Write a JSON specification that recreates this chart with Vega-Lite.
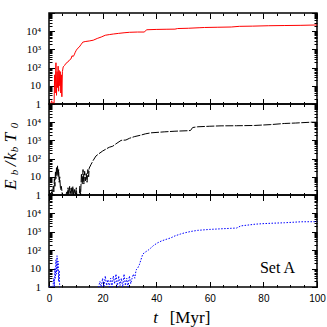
{
  "$schema": "https://vega.github.io/schema/vega-lite/v6.json",
  "background": "white",
  "padding": {"left": 0, "top": 6, "right": 11, "bottom": 0},
  "spacing": 0,
  "bounds": "flush",
  "config": {
    "view": {"stroke": "black", "strokeWidth": 1.5},
    "axis": {"domain": false, "grid": false, "tickColor": "black", "labelColor": "black", "title": null, "labelOverlap": false, "labelFlush": false, "labelBound": false}
  },
  "datasets": {
    "red": [
      {"t":0,"v":1},{"t":0.6,"v":1},{"t":1.0,"v":1.5},{"t":1.3,"v":1},{"t":1.6,"v":1.2},{"t":1.9,"v":1},{"t":2.1,"v":40},{"t":2.3,"v":4},{"t":2.5,"v":70},{"t":2.6,"v":185},{"t":2.8,"v":3},{"t":3.0,"v":60},{"t":3.2,"v":8},{"t":3.4,"v":120},{"t":3.6,"v":5},{"t":3.8,"v":70},{"t":4.0,"v":10},{"t":4.2,"v":60},{"t":4.4,"v":4},{"t":4.6,"v":40},{"t":4.8,"v":2.5},{"t":5.0,"v":60},{"t":5.3,"v":110},{"t":5.8,"v":130},{"t":6.3,"v":170},{"t":7,"v":200},{"t":7.6,"v":260},{"t":8.2,"v":300},{"t":8.6,"v":450},{"t":9.0,"v":400},{"t":9.4,"v":500},{"t":9.8,"v":700},{"t":10.2,"v":900},{"t":10.7,"v":1150},{"t":11.2,"v":1300},{"t":11.9,"v":1800},{"t":12.6,"v":2500},{"t":13.5,"v":2700},{"t":15,"v":2900},{"t":16.5,"v":3200},{"t":18,"v":4000},{"t":19.5,"v":4800},{"t":21,"v":6000},{"t":22.5,"v":6500},{"t":24,"v":7000},{"t":26,"v":7600},{"t":28,"v":8200},{"t":30,"v":8700},{"t":33,"v":9000},{"t":35.5,"v":9000},{"t":36.5,"v":12000},{"t":40,"v":12500},{"t":44,"v":12800},{"t":47,"v":13000},{"t":48,"v":14000},{"t":52,"v":14500},{"t":56,"v":15500},{"t":58,"v":16000},{"t":63,"v":16500},{"t":68,"v":17000},{"t":71,"v":18500},{"t":76,"v":19000},{"t":82,"v":20000},{"t":88,"v":20500},{"t":94,"v":21000},{"t":100,"v":22000}
    ],
    "black": [
      {"t":0,"v":1},{"t":0.5,"v":1.3},{"t":0.8,"v":1},{"t":1.1,"v":2},{"t":1.3,"v":1},{"t":1.6,"v":3},{"t":1.8,"v":1.5},{"t":2.0,"v":8},{"t":2.2,"v":3},{"t":2.4,"v":20},{"t":2.6,"v":8},{"t":2.8,"v":35},{"t":3.0,"v":12},{"t":3.2,"v":40},{"t":3.4,"v":10},{"t":3.6,"v":25},{"t":3.8,"v":5},{"t":4.0,"v":10},{"t":4.3,"v":2},{"t":4.6,"v":3},{"t":5.0,"v":1},{"t":5.5,"v":0.5},{"t":6.2,"v":0.5},{"t":6.5,"v":1.5},{"t":6.8,"v":1},{"t":7.1,"v":2.5},{"t":7.4,"v":1},{"t":7.7,"v":3},{"t":8.0,"v":1.2},{"t":8.3,"v":2.5},{"t":8.6,"v":1},{"t":8.9,"v":3},{"t":9.2,"v":1},{"t":9.5,"v":2},{"t":9.8,"v":1},{"t":10.2,"v":2.5},{"t":10.5,"v":0.5},{"t":11.2,"v":0.5},{"t":11.5,"v":3},{"t":11.8,"v":1},{"t":12.1,"v":15},{"t":12.4,"v":4},{"t":12.7,"v":25},{"t":13.0,"v":4},{"t":13.3,"v":20},{"t":13.6,"v":6},{"t":13.9,"v":15},{"t":14.2,"v":5},{"t":14.5,"v":25},{"t":14.8,"v":10},{"t":15.0,"v":30},{"t":15.7,"v":48},{"t":16.5,"v":80},{"t":17.5,"v":138},{"t":18.5,"v":180},{"t":20,"v":260},{"t":21.5,"v":350},{"t":22.5,"v":420},{"t":23.8,"v":480},{"t":25,"v":650},{"t":26.9,"v":1000},{"t":28.7,"v":1050},{"t":30,"v":1300},{"t":31.8,"v":1600},{"t":34,"v":1900},{"t":36,"v":2300},{"t":38,"v":2600},{"t":43,"v":2950},{"t":47,"v":3200},{"t":51.7,"v":3400},{"t":52.8,"v":3500},{"t":53.6,"v":5100},{"t":55.5,"v":5600},{"t":60,"v":6000},{"t":64.2,"v":6300},{"t":70,"v":6400},{"t":76.6,"v":6600},{"t":82.8,"v":7400},{"t":87.8,"v":8500},{"t":92,"v":9000},{"t":97.8,"v":10000},{"t":100,"v":10000}
    ],
    "blue": [
      {"t":0,"v":1},{"t":0.5,"v":1},{"t":1,"v":1},{"t":1.5,"v":1.2},{"t":1.8,"v":3},{"t":2,"v":1},{"t":2.2,"v":10},{"t":2.4,"v":3},{"t":2.6,"v":30},{"t":2.8,"v":5},{"t":3.0,"v":50},{"t":3.2,"v":8},{"t":3.4,"v":25},{"t":3.6,"v":2},{"t":3.8,"v":8},{"t":4.0,"v":1},{"t":4.4,"v":0.5},{"t":18,"v":0.5},{"t":18.5,"v":1},{"t":19,"v":2},{"t":19.5,"v":1},{"t":20,"v":3},{"t":20.5,"v":1},{"t":21,"v":4},{"t":21.5,"v":1.2},{"t":22,"v":2.5},{"t":22.5,"v":1},{"t":23,"v":3},{"t":23.5,"v":1},{"t":24,"v":4},{"t":24.5,"v":1.5},{"t":25,"v":5},{"t":25.5,"v":1},{"t":26,"v":4},{"t":26.5,"v":1.2},{"t":27,"v":3},{"t":27.5,"v":1},{"t":28,"v":5},{"t":28.5,"v":1.2},{"t":29,"v":3},{"t":29.5,"v":1},{"t":30,"v":4},{"t":30.5,"v":1.5},{"t":31,"v":3},{"t":31.5,"v":5},{"t":32,"v":3},{"t":32.5,"v":8.5},{"t":33,"v":10},{"t":33.7,"v":16},{"t":34.3,"v":30},{"t":35,"v":62},{"t":36,"v":80},{"t":37,"v":100},{"t":38,"v":132},{"t":39,"v":180},{"t":40.5,"v":250},{"t":42,"v":320},{"t":44,"v":400},{"t":45.5,"v":470},{"t":47,"v":600},{"t":49,"v":750},{"t":50.5,"v":870},{"t":53,"v":1050},{"t":55.5,"v":1200},{"t":60,"v":1350},{"t":64,"v":1450},{"t":68,"v":1550},{"t":70,"v":1600},{"t":71.6,"v":2100},{"t":74,"v":2300},{"t":77,"v":2600},{"t":80.3,"v":2800},{"t":84,"v":2950},{"t":87.8,"v":3100},{"t":91,"v":3300},{"t":94,"v":3500},{"t":100,"v":3550}
    ],
    "one": [{"k": 1}]
  },
  "vconcat": [
    {
      "width": 268, "height": 91,
      "layer": [
        {"data": {"name": "red"}, "mark": {"type": "line", "color": "#ff0000", "strokeWidth": 1, "clip": true},
         "encoding": {
           "x": {"field": "t", "type": "quantitative", "scale": {"domain": [0, 100], "nice": false}, "axis": {"orient": "bottom", "values": [0,20,40,60,80,100], "tickSize": -5.5, "labels": false}},
           "y": {"field": "v", "type": "quantitative", "scale": {"type": "log", "domain": [1, 100000], "nice": false}, "axis": {"orient": "left", "values": [1,10,100,1000,10000,100000], "tickSize": -5.5, "labelPadding": 14, "labelFont": "Liberation Serif", "labelFontSize": 11, "labelExpr": "datum.value == 1 ? '1' : datum.value == 10 ? '10' : datum.value == 100 ? '10²' : datum.value == 1000 ? '10³' : datum.value == 10000 ? '10⁴' : ''"}}}},
        {"data": {"name": "red"}, "mark": {"type": "line", "opacity": 0},
         "encoding": {
           "x": {"field": "t", "type": "quantitative", "axis": {"orient": "bottom", "values": [5,10,15,25,30,35,45,50,55,65,70,75,85,90,95], "tickSize": -2.5, "labels": false}},
           "y": {"field": "v", "type": "quantitative", "axis": {"orient": "left", "values": [2,3,4,5,6,7,8,9,20,30,40,50,60,70,80,90,200,300,400,500,600,700,800,900,2000,3000,4000,5000,6000,7000,8000,9000,20000,30000,40000,50000,60000,70000,80000,90000], "tickSize": -3, "labels": false}}}},
        {"data": {"name": "red"}, "mark": {"type": "line", "opacity": 0},
         "encoding": {
           "x": {"field": "t", "type": "quantitative", "axis": {"orient": "top", "values": [0,20,40,60,80,100], "tickSize": -5.5, "labels": false}},
           "y": {"field": "v", "type": "quantitative", "axis": {"orient": "right", "values": [1,10,100,1000,10000,100000], "tickSize": -5.5, "labels": false}}}},
        {"data": {"name": "red"}, "mark": {"type": "line", "opacity": 0},
         "encoding": {
           "x": {"field": "t", "type": "quantitative", "axis": {"orient": "top", "values": [5,10,15,25,30,35,45,50,55,65,70,75,85,90,95], "tickSize": -2.5, "labels": false}},
           "y": {"field": "v", "type": "quantitative", "axis": {"orient": "right", "values": [2,3,4,5,6,7,8,9,20,30,40,50,60,70,80,90,200,300,400,500,600,700,800,900,2000,3000,4000,5000,6000,7000,8000,9000,20000,30000,40000,50000,60000,70000,80000,90000], "tickSize": -3, "labels": false}}}}
      ],
      "resolve": {"axis": {"x": "independent", "y": "independent"}}
    },
    {
      "width": 268, "height": 91,
      "layer": [
        {"data": {"name": "black"}, "mark": {"type": "line", "color": "black", "strokeWidth": 1, "strokeDash": [8, 1.5], "clip": true},
         "encoding": {
           "x": {"field": "t", "type": "quantitative", "scale": {"domain": [0, 100], "nice": false}, "axis": {"orient": "bottom", "values": [0,20,40,60,80,100], "tickSize": -5.5, "labels": false}},
           "y": {"field": "v", "type": "quantitative", "scale": {"type": "log", "domain": [1, 100000], "nice": false}, "axis": {"orient": "left", "values": [1,10,100,1000,10000,100000], "tickSize": -5.5, "labelPadding": 14, "labelFont": "Liberation Serif", "labelFontSize": 11, "labelExpr": "datum.value == 1 ? '1' : datum.value == 10 ? '10' : datum.value == 100 ? '10²' : datum.value == 1000 ? '10³' : datum.value == 10000 ? '10⁴' : ''"}}}},
        {"data": {"name": "black"}, "mark": {"type": "line", "opacity": 0},
         "encoding": {
           "x": {"field": "t", "type": "quantitative", "axis": {"orient": "bottom", "values": [5,10,15,25,30,35,45,50,55,65,70,75,85,90,95], "tickSize": -2.5, "labels": false}},
           "y": {"field": "v", "type": "quantitative", "axis": {"orient": "left", "values": [2,3,4,5,6,7,8,9,20,30,40,50,60,70,80,90,200,300,400,500,600,700,800,900,2000,3000,4000,5000,6000,7000,8000,9000,20000,30000,40000,50000,60000,70000,80000,90000], "tickSize": -3, "labels": false}}}},
        {"data": {"name": "black"}, "mark": {"type": "line", "opacity": 0},
         "encoding": {
           "x": {"field": "t", "type": "quantitative", "axis": {"orient": "top", "values": [0,20,40,60,80,100], "tickSize": -5.5, "labels": false}},
           "y": {"field": "v", "type": "quantitative", "axis": {"orient": "right", "values": [1,10,100,1000,10000,100000], "tickSize": -5.5, "labels": false}}}},
        {"data": {"name": "black"}, "mark": {"type": "line", "opacity": 0},
         "encoding": {
           "x": {"field": "t", "type": "quantitative", "axis": {"orient": "top", "values": [5,10,15,25,30,35,45,50,55,65,70,75,85,90,95], "tickSize": -2.5, "labels": false}},
           "y": {"field": "v", "type": "quantitative", "axis": {"orient": "right", "values": [2,3,4,5,6,7,8,9,20,30,40,50,60,70,80,90,200,300,400,500,600,700,800,900,2000,3000,4000,5000,6000,7000,8000,9000,20000,30000,40000,50000,60000,70000,80000,90000], "tickSize": -3, "labels": false}}}},
        {"data": {"name": "one"}, "mark": {"type": "text", "text": "E", "angle": 270, "align": "center", "baseline": "middle", "font": "Liberation Serif", "fontStyle": "italic", "fontSize": 17, "color": "black"},
         "encoding": {"x": {"datum": -14.3, "type": "quantitative", "axis": null}, "y": {"datum": 3.78, "type": "quantitative", "axis": null}}},
        {"data": {"name": "one"}, "mark": {"type": "text", "text": "b", "angle": 270, "align": "center", "baseline": "middle", "font": "Liberation Serif", "fontStyle": "italic", "fontSize": 11, "dy": 4.5, "color": "black"},
         "encoding": {"x": {"datum": -14.3, "type": "quantitative", "axis": null}, "y": {"datum": 17.2, "type": "quantitative", "axis": null}}},
        {"data": {"name": "one"}, "mark": {"type": "text", "text": "/", "angle": 270, "align": "center", "baseline": "middle", "font": "Liberation Serif", "fontStyle": "italic", "fontSize": 17, "color": "black"},
         "encoding": {"x": {"datum": -14.3, "type": "quantitative", "axis": null}, "y": {"datum": 50.5, "type": "quantitative", "axis": null}}},
        {"data": {"name": "one"}, "mark": {"type": "text", "text": "k", "angle": 270, "align": "center", "baseline": "middle", "font": "Liberation Serif", "fontStyle": "italic", "fontSize": 17, "color": "black"},
         "encoding": {"x": {"datum": -14.3, "type": "quantitative", "axis": null}, "y": {"datum": 130, "type": "quantitative", "axis": null}}},
        {"data": {"name": "one"}, "mark": {"type": "text", "text": "b", "angle": 270, "align": "center", "baseline": "middle", "font": "Liberation Serif", "fontStyle": "italic", "fontSize": 11, "dy": 4.5, "color": "black"},
         "encoding": {"x": {"datum": -14.3, "type": "quantitative", "axis": null}, "y": {"datum": 316, "type": "quantitative", "axis": null}}},
        {"data": {"name": "one"}, "mark": {"type": "text", "text": "T", "angle": 270, "align": "center", "baseline": "middle", "font": "Liberation Serif", "fontStyle": "italic", "fontSize": 17, "color": "black"},
         "encoding": {"x": {"datum": -14.3, "type": "quantitative", "axis": null}, "y": {"datum": 1445, "type": "quantitative", "axis": null}}},
        {"data": {"name": "one"}, "mark": {"type": "text", "text": "0", "angle": 270, "align": "center", "baseline": "middle", "font": "Liberation Serif", "fontStyle": "italic", "fontSize": 11, "dy": 4.5, "color": "black"},
         "encoding": {"x": {"datum": -14.3, "type": "quantitative", "axis": null}, "y": {"datum": 6600, "type": "quantitative", "axis": null}}}
      ],
      "resolve": {"axis": {"x": "independent", "y": "independent"}}
    },
    {
      "width": 268, "height": 92,
      "layer": [
        {"data": {"name": "blue"}, "mark": {"type": "line", "color": "#0000ff", "strokeWidth": 1, "strokeDash": [1.5, 1.5], "clip": true},
         "encoding": {
           "x": {"field": "t", "type": "quantitative", "scale": {"domain": [0, 100], "nice": false}, "axis": {"orient": "bottom", "values": [0,20,40,60,80,100], "tickSize": -5.5, "labelPadding": 12, "labelFont": "Liberation Sans", "labelFontSize": 10}},
           "y": {"field": "v", "type": "quantitative", "scale": {"type": "log", "domain": [1, 100000], "nice": false}, "axis": {"orient": "left", "values": [1,10,100,1000,10000,100000], "tickSize": -5.5, "labelPadding": 14, "labelFont": "Liberation Serif", "labelFontSize": 11, "labelExpr": "datum.value == 1 ? '1' : datum.value == 10 ? '10' : datum.value == 100 ? '10²' : datum.value == 1000 ? '10³' : datum.value == 10000 ? '10⁴' : ''"}}}},
        {"data": {"name": "blue"}, "mark": {"type": "line", "opacity": 0},
         "encoding": {
           "x": {"field": "t", "type": "quantitative", "axis": {"orient": "bottom", "values": [5,10,15,25,30,35,45,50,55,65,70,75,85,90,95], "tickSize": -2.5, "labels": false}},
           "y": {"field": "v", "type": "quantitative", "axis": {"orient": "left", "values": [2,3,4,5,6,7,8,9,20,30,40,50,60,70,80,90,200,300,400,500,600,700,800,900,2000,3000,4000,5000,6000,7000,8000,9000,20000,30000,40000,50000,60000,70000,80000,90000], "tickSize": -3, "labels": false}}}},
        {"data": {"name": "blue"}, "mark": {"type": "line", "opacity": 0},
         "encoding": {
           "x": {"field": "t", "type": "quantitative", "axis": {"orient": "top", "values": [0,20,40,60,80,100], "tickSize": -5.5, "labels": false}},
           "y": {"field": "v", "type": "quantitative", "axis": {"orient": "right", "values": [1,10,100,1000,10000,100000], "tickSize": -5.5, "labels": false}}}},
        {"data": {"name": "blue"}, "mark": {"type": "line", "opacity": 0},
         "encoding": {
           "x": {"field": "t", "type": "quantitative", "axis": {"orient": "top", "values": [5,10,15,25,30,35,45,50,55,65,70,75,85,90,95], "tickSize": -2.5, "labels": false}},
           "y": {"field": "v", "type": "quantitative", "axis": {"orient": "right", "values": [2,3,4,5,6,7,8,9,20,30,40,50,60,70,80,90,200,300,400,500,600,700,800,900,2000,3000,4000,5000,6000,7000,8000,9000,20000,30000,40000,50000,60000,70000,80000,90000], "tickSize": -3, "labels": false}}}},
        {"data": {"name": "one"}, "mark": {"type": "text", "text": "Set A", "align": "right", "baseline": "alphabetic", "font": "Liberation Serif", "fontSize": 16, "color": "black"},
         "encoding": {"x": {"datum": 91.8, "type": "quantitative", "axis": null}, "y": {"datum": 6, "type": "quantitative", "axis": null}}},
        {"data": {"name": "one"}, "mark": {"type": "text", "text": "t", "align": "center", "baseline": "alphabetic", "font": "Liberation Serif", "fontStyle": "italic", "fontSize": 17, "dx": -27.5, "dy": 36, "color": "black"},
         "encoding": {"x": {"datum": 50, "type": "quantitative", "axis": null}, "y": {"datum": 1, "type": "quantitative", "axis": null}}},
        {"data": {"name": "one"}, "mark": {"type": "text", "text": "[Myr]", "align": "center", "baseline": "alphabetic", "font": "Liberation Serif", "fontSize": 17, "dx": 7, "dy": 36, "color": "black"},
         "encoding": {"x": {"datum": 50, "type": "quantitative", "axis": null}, "y": {"datum": 1, "type": "quantitative", "axis": null}}}
      ],
      "resolve": {"axis": {"x": "independent", "y": "independent"}}
    }
  ]
}
